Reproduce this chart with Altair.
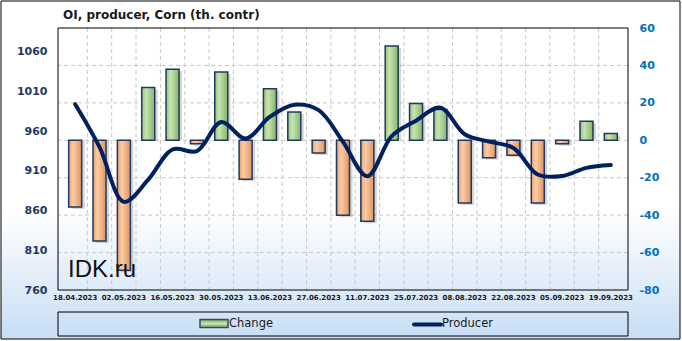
import altair as alt
import pandas as pd

# ---- data ----
dates = ["18.04.2023", "25.04.2023", "02.05.2023", "09.05.2023", "16.05.2023",
         "23.05.2023", "30.05.2023", "06.06.2023", "13.06.2023", "20.06.2023",
         "27.06.2023", "04.07.2023", "11.07.2023", "18.07.2023", "25.07.2023",
         "01.08.2023", "08.08.2023", "15.08.2023", "22.08.2023", "29.08.2023",
         "05.09.2023", "12.09.2023", "19.09.2023"]
change = [-35.6, -53.8, -69.5, 28.2, 37.9, -1.8, 36.5, -20.8, 27.6, 15.1,
          -6.8, -40.0, -43.3, 50.4, 19.6, 16.4, -33.5, -9.3, -8.0, -33.5,
          -1.8, 10.2, 3.6]
producer = [994.0, 940.0, 871.0, 899.0, 937.0, 935.0, 971.5, 950.7, 978.3, 993.4,
            986.6, 946.6, 903.3, 953.7, 973.3, 989.7, 956.2, 946.9, 938.9, 905.4,
            903.6, 913.8, 917.4]
left_ticks = [760, 810, 860, 910, 960, 1010, 1060]
right_ticks = [-80, -60, -40, -20, 0, 20, 40, 60]
series_names = ["Change", "Producer"]
title_text = "OI,  producer, Corn (th. contr)"
watermark = "IDK.ru"

W, H = 570, 262
FONT = "DejaVu Sans"
NAVY = "#1f3864"
LINE = "#002060"

df = pd.DataFrame({"idx": list(range(len(dates))), "date": dates,
                   "change": change, "producer": producer})
vgrid = pd.DataFrame({"b": [i + 0.5 for i in range(len(dates) - 1)]})
hgrid = pd.DataFrame({"v": [t for t in right_ticks if -80 < t < 60]})
one = pd.DataFrame({"a": [0]})

xscale = alt.Scale(domain=[-0.5, len(dates) - 0.5], nice=False, zero=False)
X = alt.X("idx:Q", scale=xscale, axis=None)
XG = alt.X("b:Q", scale=xscale, axis=None)

right_axis = alt.Axis(orient="right", values=right_ticks, grid=False, ticks=False,
                      domain=False, labelFont=FONT, labelFontSize=11,
                      labelFontWeight="bold", labelColor="#0070c0",
                      labelExpr="'' + datum.value",
                      labelPadding=11, title=None, zindex=1)
rscale = alt.Scale(domain=[-80, 60], nice=False, zero=False)

def grad_h(c0, c1, c2):
    return alt.LinearGradient(gradient="linear",
                              stops=[alt.GradientStop(offset=0, color=c0),
                                     alt.GradientStop(offset=0.35, color=c1),
                                     alt.GradientStop(offset=1, color=c2)],
                              x1=0, x2=1, y1=0, y2=0)

green = grad_h("#9cc67e", "#c6e4b0", "#86b466")
orange = grad_h("#eba06c", "#fbcca6", "#de945f")

bg_grad = alt.LinearGradient(gradient="linear",
                             stops=[alt.GradientStop(offset=0, color="#ffffff"),
                                    alt.GradientStop(offset=0.62, color="#ffffff"),
                                    alt.GradientStop(offset=1, color="#c8def5")],
                             x1=0, x2=0, y1=0, y2=1)

bg = alt.Chart(one).mark_rect(fill=bg_grad, stroke="black", strokeWidth=1).encode(
    x=alt.value(-57), x2=alt.value(W + 52), y=alt.value(-27), y2=alt.value(H + 49))

vg = alt.Chart(vgrid).mark_rule(color="#c8c8c8", strokeDash=[4, 3], strokeWidth=1).encode(x=XG)

hg = alt.Chart(hgrid).mark_rule(color="#c8c8c8", strokeDash=[4, 3], strokeWidth=1).encode(
    y=alt.Y("v:Q", scale=rscale, axis=right_axis))

Yb = alt.Y("change:Q", scale=rscale, axis=right_axis)

shadow = alt.Chart(df).mark_bar(width=13, xOffset=3, yOffset=2, color="#000000",
                                opacity=0.16).encode(x=X, y=Yb, y2=alt.datum(0))
pos = alt.Chart(df).transform_filter("datum.change >= 0").mark_bar(
    width=13, fill=green, stroke=NAVY, strokeWidth=1.5).encode(x=X, y=Yb, y2=alt.datum(0))
neg = alt.Chart(df).transform_filter("datum.change < 0").mark_bar(
    width=13, fill=orange, stroke=NAVY, strokeWidth=1.5).encode(x=X, y=Yb, y2=alt.datum(0))

bars = alt.layer(hg, shadow, pos, neg)

line = alt.Chart(df).mark_line(interpolate="catmull-rom", color=LINE, strokeWidth=4,
                               strokeCap="round").encode(
    x=X,
    y=alt.Y("producer:Q", scale=alt.Scale(domain=[760, 1090], nice=False, zero=False),
            axis=alt.Axis(orient="left", values=left_ticks, grid=False, ticks=False,
                          domain=False, labelFont=FONT, labelFontSize=11,
                          labelFontWeight="bold", labelColor=NAVY, labelPadding=11,
                          format="d", title=None, zindex=1)))

# category labels on every other week, placed through the x scale
xlabels = alt.Chart(df).transform_filter("datum.idx % 2 == 0").mark_text(
    align="center", baseline="middle", font=FONT, fontSize=7, fontWeight="bold",
    color="#1a1a1a").encode(x=X, y=alt.value(H + 8), text="date:N")

border = alt.Chart(one).mark_rect(fill=None, stroke="black", strokeWidth=1).encode(
    x=alt.value(0), x2=alt.value(W), y=alt.value(0), y2=alt.value(H))

title = alt.Chart(pd.DataFrame({"t": [title_text]})).mark_text(
    align="left", baseline="alphabetic", font=FONT, fontSize=12, fontWeight="bold",
    color="#1a1a1a").encode(text="t:N", x=alt.value(5), y=alt.value(-9))

wm = alt.Chart(pd.DataFrame({"t": [watermark]})).mark_text(
    align="left", baseline="alphabetic", font="Liberation Sans", fontSize=24,
    color="#111111").encode(text="t:N", x=alt.value(10), y=alt.value(249))

leg_box = alt.Chart(one).mark_rect(fill=None, stroke="black", strokeWidth=1).encode(
    x=alt.value(0), x2=alt.value(W), y=alt.value(284), y2=alt.value(308))
leg_sym1 = alt.Chart(one).mark_rect(
    fill=alt.LinearGradient(gradient="linear",
                            stops=[alt.GradientStop(offset=0, color="#7fa862"),
                                   alt.GradientStop(offset=0.5, color="#c6e4b0"),
                                   alt.GradientStop(offset=1, color="#7fa862")],
                            x1=0, x2=0, y1=0, y2=1),
    stroke="#3a4a5a", strokeWidth=1.5).encode(
    x=alt.value(142), x2=alt.value(170), y=alt.value(291.5), y2=alt.value(299.5))
leg_txt1 = alt.Chart(pd.DataFrame({"t": [series_names[0]]})).mark_text(
    align="left", baseline="middle", font=FONT, fontSize=11.5, color="#1a1a1a").encode(
    text="t:N", x=alt.value(171), y=alt.value(296))
leg_sym2 = alt.Chart(one).mark_rule(color=LINE, strokeWidth=4, strokeCap="round").encode(
    x=alt.value(356), x2=alt.value(383), y=alt.value(296.5))
leg_txt2 = alt.Chart(pd.DataFrame({"t": [series_names[1]]})).mark_text(
    align="left", baseline="middle", font=FONT, fontSize=11.5, color="#1a1a1a").encode(
    text="t:N", x=alt.value(384), y=alt.value(296))

chart = alt.layer(
    bg, vg, bars, line, xlabels, border, title, wm,
    leg_box, leg_sym1, leg_txt1, leg_sym2, leg_txt2
).resolve_scale(y="independent").properties(
    width=W, height=H,
    autosize=alt.AutoSizeParams(type="none"),
    padding={"left": 58, "top": 28, "right": 54, "bottom": 51},
).configure(background="white").configure_view(stroke=None)

chart.save("out.html", embed_options={"renderer": "svg", "actions": False})
